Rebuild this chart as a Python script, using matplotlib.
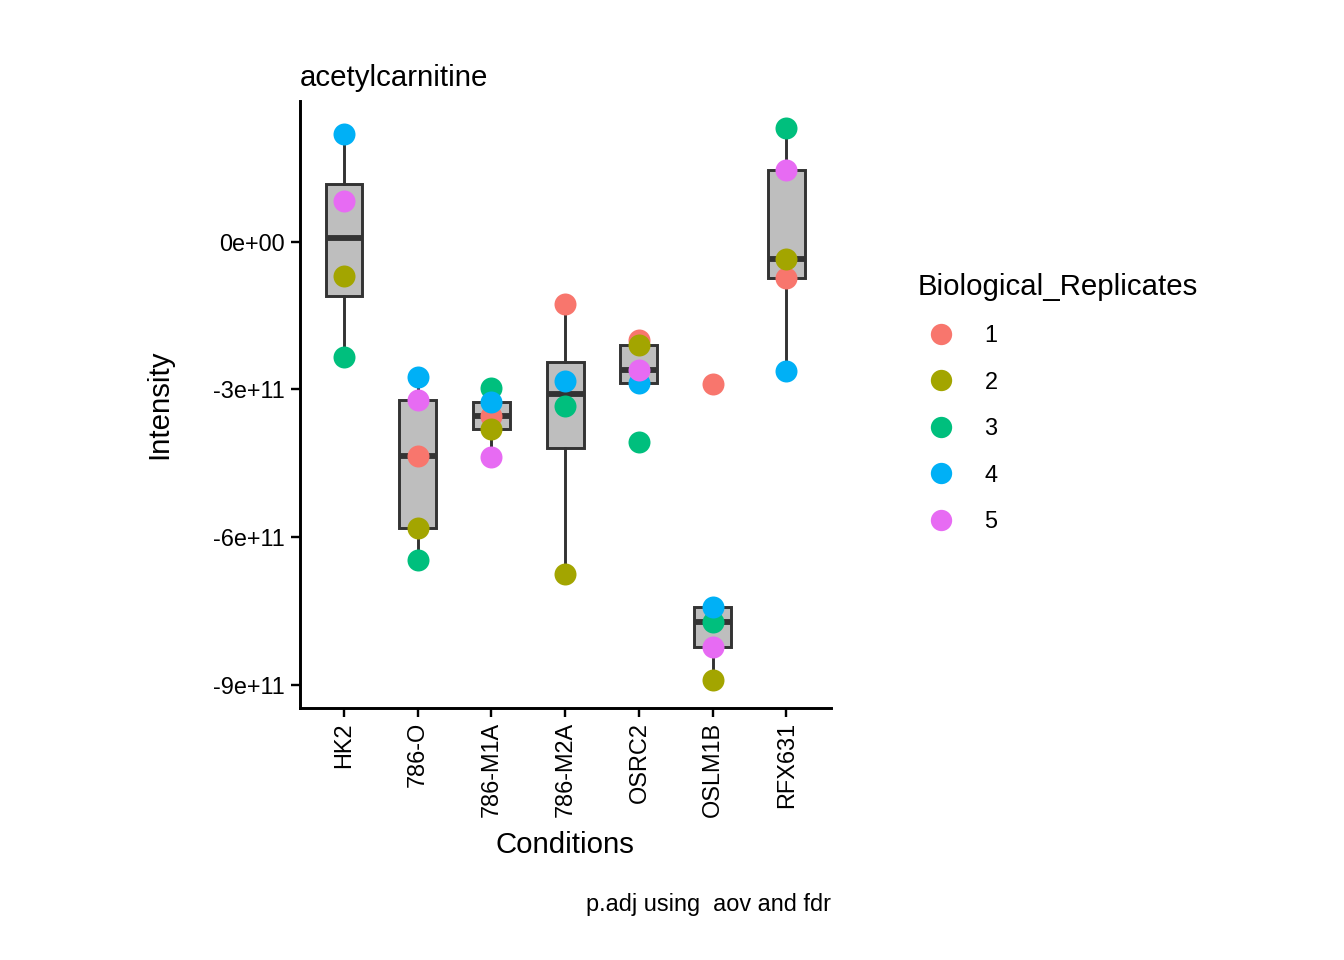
import numpy as np
import matplotlib
matplotlib.use("Agg")
import matplotlib.pyplot as plt
from matplotlib.lines import Line2D

plt.rcParams['font.family'] = ['Liberation Sans', 'DejaVu Sans']

conditions = ["HK2", "786-O", "786-M1A", "786-M2A", "OSRC2", "OSLM1B", "RFX631"]
replicates = ["1", "2", "3", "4", "5"]
colors = ["#F8766D", "#A3A500", "#00BF7D", "#00B0F6", "#E76BF3"]

# intensity per replicate (rows) and condition (columns), units of 1e11
rep1 = [np.nan, -4.36, -3.54, -1.26, -2.00, -2.89, -0.73]
rep2 = [-0.69, -5.82, -3.81, -6.74, -2.10, -8.90, -0.35]
rep3 = [-2.34, -6.46, -2.97, -3.34, -4.07, -7.72, 2.30]
rep4 = [2.18, -2.75, -3.26, -2.83, -2.87, -7.41, -2.63]
rep5 = [0.83, -3.22, -4.38, np.nan, -2.61, -8.23, 1.45]

data = np.array([rep1, rep2, rep3, rep4, rep5]) * 1e11
pos = np.arange(1, len(conditions) + 1)

fig = plt.figure(figsize=(7, 5), dpi=192)
ax = fig.add_axes([0.223, 0.263, 0.395, 0.632])

box_data = [data[:, j][~np.isnan(data[:, j])] for j in range(len(conditions))]
ax.boxplot(box_data, positions=pos, widths=0.5, patch_artist=True,
           showfliers=False, showcaps=False,
           boxprops=dict(facecolor="#BEBEBE", edgecolor="#333333", linewidth=1.1),
           whiskerprops=dict(color="#333333", linewidth=1.1),
           medianprops=dict(color="#333333", linewidth=2.2))

for i, rep in enumerate(replicates):
    ax.scatter(pos, data[i], s=68, color=colors[i], zorder=3, linewidths=0)

ax.set_xlim(0.4, 7.6)
ax.set_ylim(-9.46e11, 2.86e11)
ax.set_xticks(pos)
ax.set_xticklabels(conditions, rotation=90, fontsize=8.8)
yt = [-9e11, -6e11, -3e11, 0]
ax.set_yticks(yt)
ax.set_yticklabels(["-9e+11", "-6e+11", "-3e+11", "0e+00"], fontsize=8.8)
ax.tick_params(colors="black", length=3.5, width=0.9, pad=2)
for s in ["top", "right"]:
    ax.spines[s].set_visible(False)
for s in ["left", "bottom"]:
    ax.spines[s].set_linewidth(1.1)

ax.set_xlabel("Conditions", fontsize=11, labelpad=5)
ax.set_ylabel("Intensity", fontsize=11, labelpad=15)
ax.set_title("acetylcarnitine", loc="left", fontsize=11, pad=5.5)

handles = [Line2D([], [], marker="o", linestyle="", markersize=8,
                  markerfacecolor=c, markeredgewidth=0) for c in colors]
leg = fig.legend(handles, replicates, title="Biological_Replicates",
                 loc="upper left", bbox_to_anchor=(0.667, 0.738), frameon=False,
                 fontsize=8.8, title_fontsize=11, labelspacing=1.0,
                 handlelength=2.0, handletextpad=0.85)
leg._legend_box.align = "left"

fig.text(0.618, 0.046, "p.adj using  aov and fdr", ha="right", va="bottom", fontsize=8.8)

fig.savefig("out.png", dpi=192)
